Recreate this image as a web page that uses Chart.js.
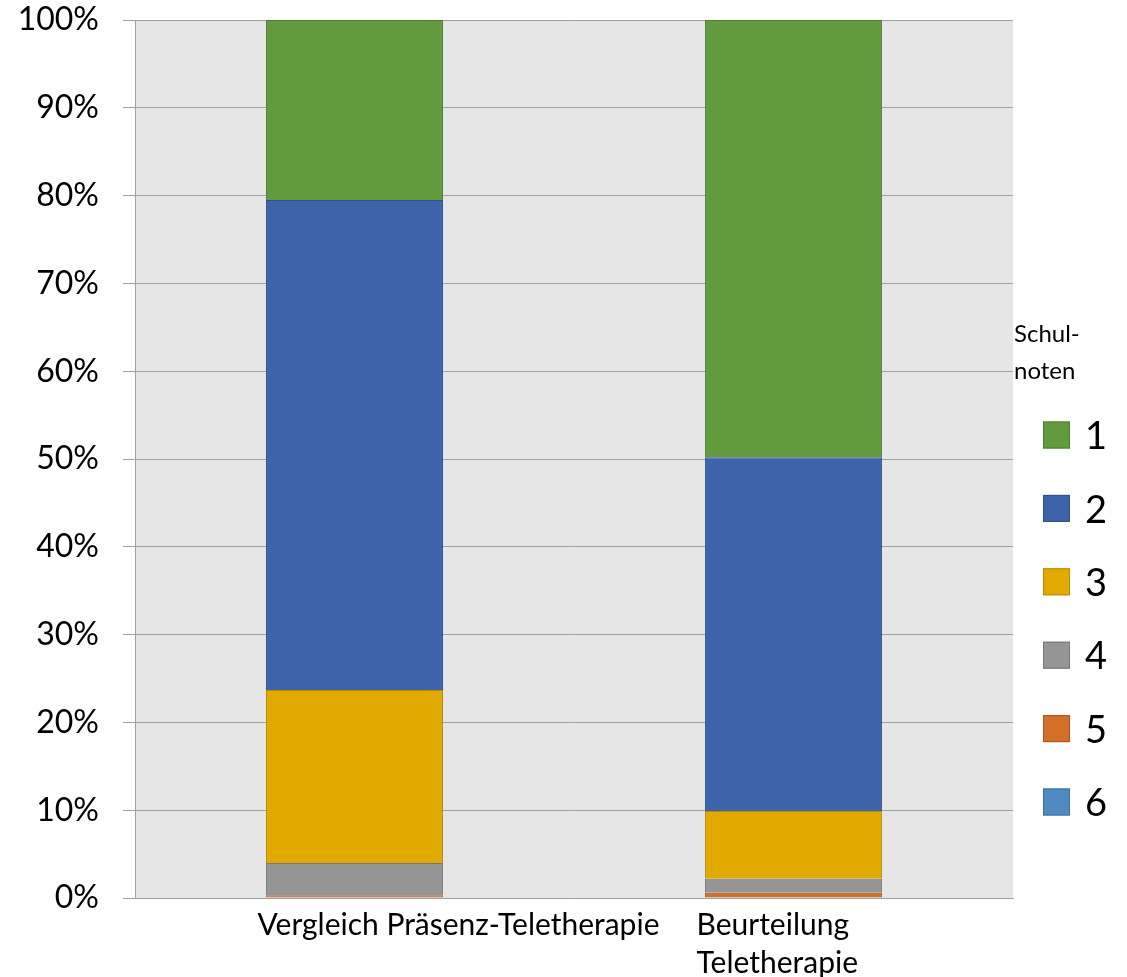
<!DOCTYPE html>
<html>
<head>
<meta charset="utf-8">
<script src="https://cdn.jsdelivr.net/npm/chart.js@4"></script>
<style>
    body { margin: 0; background: #fff; }
</style>
</head>
<body>
<canvas id="myChart" width="1127" height="977"></canvas>
<script>
    // categories and series (percent of answers per school grade)
    var categories = [["Vergleich Präsenz-Teletherapie"], ["Beurteilung", "Teletherapie"]];
    var gradeLabels = ["1", "2", "3", "4", "5", "6"];
    var grade1 = [20.5, 49.8];
    var grade2 = [55.8, 40.3];
    var grade3 = [19.7, 7.7];
    var grade4 = [3.7, 1.6];
    var grade5 = [0.2, 0.6];
    var grade6 = [0.1, 0.0];
    var yTicks = [0, 10, 20, 30, 40, 50, 60, 70, 80, 90, 100];

    var seriesValues = [grade1, grade2, grade3, grade4, grade5, grade6];
    var fillColors = ["#629a3e", "#3d64ab", "#e2aa00", "#959595", "#d46f2a", "#4f8bc0"];
    var lineColors = ["#4d7d2f", "#2f4f8a", "#b78a00", "#777777", "#a9561f", "#3d6f9a"];

    var fontFamily = "Lato, 'Open Sans', sans-serif";

    // stacking starts with the first dataset, so grade 6 goes first
    var datasets = [];
    for (var i = seriesValues.length - 1; i >= 0; i--) {
        datasets.push({
            label: gradeLabels[i],
            data: seriesValues[i],
            backgroundColor: fillColors[i],
            borderColor: lineColors[i],
            borderWidth: 1,
            barPercentage: 0.403,
            categoryPercentage: 1
        });
    }

    // grey plot background
    var plotBackground = {
        id: 'plotBackground',
        beforeDraw: function (chart) {
            var a = chart.chartArea;
            var ctx = chart.ctx;
            ctx.save();
            ctx.fillStyle = "#e6e6e6";
            ctx.fillRect(a.left, a.top, a.right - a.left, a.bottom - a.top);
            ctx.restore();
        }
    };

    // legend on the right with the two-line title
    var sideLegend = {
        id: 'sideLegend',
        afterDraw: function (chart) {
            var a = chart.chartArea;
            var ctx = chart.ctx;
            ctx.save();
            ctx.fillStyle = "#000";
            ctx.textBaseline = "alphabetic";
            ctx.textAlign = "left";
            ctx.font = "24px " + fontFamily;
            ctx.fillText("Schul-", a.right + 1, 342);
            ctx.fillText("noten", a.right + 1, 379);

            ctx.font = "38px " + fontFamily;
            ctx.textBaseline = "middle";
            for (var i = 0; i < gradeLabels.length; i++) {
                var cy = 435 + i * 73.4;
                ctx.fillStyle = fillColors[i];
                ctx.fillRect(a.right + 30, cy - 13.5, 27, 27);
                ctx.strokeStyle = lineColors[i];
                ctx.lineWidth = 1;
                ctx.strokeRect(a.right + 30.5, cy - 13, 26, 26);
                ctx.fillStyle = "#000";
                ctx.fillText(gradeLabels[i], a.right + 72, cy + 2);
            }
            ctx.restore();
        }
    };

    var ctx = document.getElementById('myChart').getContext('2d');

    var chart = new Chart(ctx, {
        type: 'bar',
        data: {
            labels: categories,
            datasets: datasets
        },
        options: {
            responsive: false,
            animation: false,
            layout: {
                padding: { left: 0, right: 114, top: 20, bottom: 0 }
            },
            plugins: {
                legend: { display: false },
                tooltip: { enabled: false }
            },
            scales: {
                x: {
                    stacked: true,
                    grid: { display: false },
                    border: { color: "#a0a0a0", width: 1 },
                    ticks: {
                        color: "#000",
                        font: { family: fontFamily, size: 30, lineHeight: 1.25 },
                        align: 'start',
                        labelOffset: -97,
                        padding: 1,
                        maxRotation: 0,
                        autoSkip: false
                    },
                    afterFit: function (scale) {
                        scale.height = 79;
                    }
                },
                y: {
                    stacked: true,
                    min: 0,
                    max: 100,
                    afterBuildTicks: function (scale) {
                        scale.ticks = yTicks.map(function (v) { return { value: v }; });
                    },
                    grid: {
                        color: "#a0a0a0",
                        lineWidth: 1,
                        tickLength: 12
                    },
                    border: { color: "#a0a0a0", width: 1 },
                    ticks: {
                        color: "#000",
                        font: { family: fontFamily, size: 32 },
                        padding: 24,
                        callback: function (v) { return v + "%"; }
                    },
                    afterFit: function (scale) {
                        scale.width = 135;
                        scale.paddingTop = 0;
                        scale.paddingBottom = 0;
                    }
                }
            }
        },
        plugins: [plotBackground, sideLegend]
    });
</script>
</body>
</html>
